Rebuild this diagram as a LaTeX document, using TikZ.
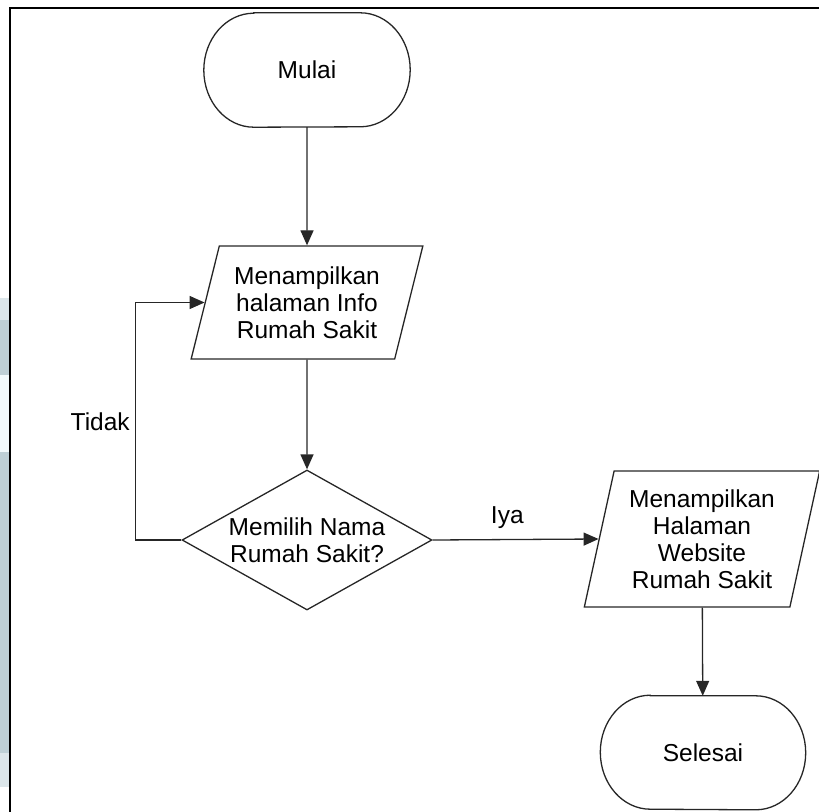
\documentclass[tikz,border=0pt]{standalone}
\usepackage{fontspec}
\setmainfont{Liberation Sans}
\usetikzlibrary{shapes, arrows.meta, positioning, calc}
\definecolor{cStrip}{RGB}{190,208,214}
\definecolor{cStripLt}{RGB}{220,230,234}
\definecolor{cStripPale}{RGB}{242,250,252}

\begin{document}
\begin{tikzpicture}[x=1pt, y=-1pt,
            lbl/.style={font=\fontsize{24.5}{27}\selectfont, align=center, inner sep=0pt},
            term/.style={lbl, minimum width=206pt, minimum height=114pt},
            io/.style={lbl, draw=black!85, line width=1.3pt, trapezium, trapezium stretches=true,
                trapezium left angle=72, trapezium right angle=108},
            dec/.style={lbl, draw=black!85, line width=1.3pt, diamond, aspect=1.79,
                minimum width=250pt, minimum height=140pt},
            ln/.style={draw=black!85, line width=1.3pt},
            arr/.style={ln, -{Triangle[length=15pt, width=13pt]}}]
            \useasboundingbox (0,0) rectangle (819,811);
            \clip (0,0) rectangle (819,811);
            % page edge and frame
            \fill[cStripLt] (0,298) rectangle (9,320);
            \fill[cStrip] (0,320) rectangle (9,375);
            \fill[cStripPale] (0,375) rectangle (9,452);
            \fill[cStrip] (0,452) rectangle (9,753);
            \fill[cStripLt] (0,753) rectangle (9,787);
            \draw[line width=2pt] (10,7.5) rectangle (840,840);
            % nodes
            \node[term] (mulai) at (307,70) {Mulai};
            \node[io, minimum width=232pt, minimum height=113pt] (info) at (307,302.5) {Menampilkan\\halaman Info\\Rumah Sakit};
            \node[dec] (pilih) at (307,540) {Memilih Nama\\Rumah Sakit?};
            \node[io, trapezium left angle=76, trapezium right angle=104,
                minimum width=236pt, minimum height=136pt] (web) at (702,539) {Menampilkan\\Halaman\\Website\\Rumah Sakit};
            \node[term, minimum width=205pt, minimum height=113pt] (selesai) at (703,752.5) {Selesai};
            \foreach \t in {mulai, selesai}
                \draw[ln] ([xshift=50pt]\t.north west) -- ([xshift=-50pt]\t.north east)
                    arc[start angle=90, end angle=-90, x radius=50pt, y radius=57pt]
                    -- ([xshift=50pt]\t.south west)
                    arc[start angle=270, end angle=90, x radius=50pt, y radius=57pt] -- cycle;
            % connectors
            \draw[arr] (mulai) -- (info);
            \draw[arr] (info) -- (pilih);
            \draw[arr] (pilih.east) -- node[lbl, above=10pt, pos=0.45] (iya) {Iya} (web.west);
            \draw[arr] (pilih.west) -- ++(-46,0) |- node[lbl, left=5pt, pos=0.25] (tidak) {Tidak} (info.west);
            \draw[arr] (web) -- (selesai);
        \end{tikzpicture}
\end{document}
